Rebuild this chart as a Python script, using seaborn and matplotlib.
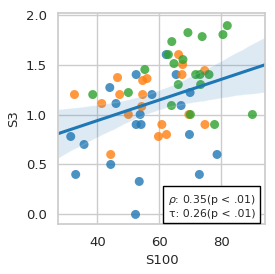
import numpy as np
import pandas as pd
import matplotlib
matplotlib.use("Agg")
import matplotlib.pyplot as plt
import seaborn as sns

# values, one list pair per colour group
blue_x = [52.5, 44.0, 46.0, 57.6, 53.8, 52.5, 54.1, 31.4, 35.7, 44.3,
          33.0, 53.5, 52.3, 62.2, 65.4, 69.9, 67.0, 69.7, 78.6, 72.9]
blue_y = [1.40, 1.27, 1.11, 1.20, 1.00, 0.90, 0.90, 0.78, 0.70, 0.50,
          0.40, 0.33, 0.00, 1.60, 1.40, 1.22, 1.09, 0.80, 0.60, 0.40]

orange_x = [32.6, 41.4, 46.5, 47.2, 54.6, 56.0, 54.6, 54.3, 50.0, 44.3,
            60.8, 59.7, 62.3, 66.2, 67.5, 67.3, 74.6, 74.7, 69.5]
orange_y = [1.20, 1.11, 1.37, 1.20, 1.34, 1.36, 1.20, 1.08, 1.00, 0.60,
            0.90, 0.78, 0.80, 1.60, 1.50, 1.40, 1.44, 0.90, 1.00]

green_x = [38.5, 50.0, 55.3, 62.9, 64.0, 64.7, 67.6, 66.1, 63.9, 69.2,
           73.8, 80.5, 81.9, 71.7, 73.1, 76.0, 73.3, 70.0, 77.8, 90.0]
green_y = [1.20, 1.22, 1.45, 1.60, 1.73, 1.51, 1.55, 1.30, 1.09, 1.82,
           1.78, 1.80, 1.89, 1.40, 1.40, 1.40, 1.30, 1.00, 0.90, 1.00]

groups = ["a", "b", "c"]
stats_text = "$\\rho$: 0.35(p < .01)\nτ: 0.26(p < .01)"

df = pd.DataFrame({
    "S100": blue_x + orange_x + green_x,
    "S3": blue_y + orange_y + green_y,
    "group": [groups[0]] * len(blue_x) + [groups[1]] * len(orange_x) + [groups[2]] * len(green_x),
})

sns.set_theme(style="whitegrid", palette="tab10")
plt.rcParams["font.family"] = ["DejaVu Sans"]
tab = sns.color_palette("tab10")

fig, ax = plt.subplots(figsize=(2.75, 2.74), dpi=100)
fig.subplots_adjust(left=0.211, right=0.964, top=0.954, bottom=0.181)

ax.set_xlim(27.3, 94.1)
ax.set_ylim(-0.1, 2.02)

sns.scatterplot(data=df, x="S100", y="S3", hue="group", hue_order=groups,
                palette=tab[:3], s=42, alpha=0.8, linewidth=0,
                legend=False, ax=ax)
np.random.seed(0)
sns.regplot(data=df, x="S100", y="S3", scatter=False, truncate=False,
            color=tab[0], line_kws={"lw": 2.2}, ax=ax)

ax.set_xlim(27.3, 94.1)
ax.set_ylim(-0.1, 2.02)
ax.set_xticks([40, 60, 80])
ax.set_yticks([0.0, 0.5, 1.0, 1.5, 2.0])
ax.tick_params(labelsize=9.5, pad=2)
ax.set_xlabel("S100", fontsize=9.5)
ax.set_ylabel("S3", fontsize=9.5)

ax.text(0.955, 0.025, stats_text, transform=ax.transAxes, ha="right", va="bottom",
        fontsize=7.8, linespacing=1.3,
        bbox=dict(boxstyle="square,pad=0.4", facecolor="white", edgecolor="black", lw=1))

plt.savefig("out.png", dpi=100)
